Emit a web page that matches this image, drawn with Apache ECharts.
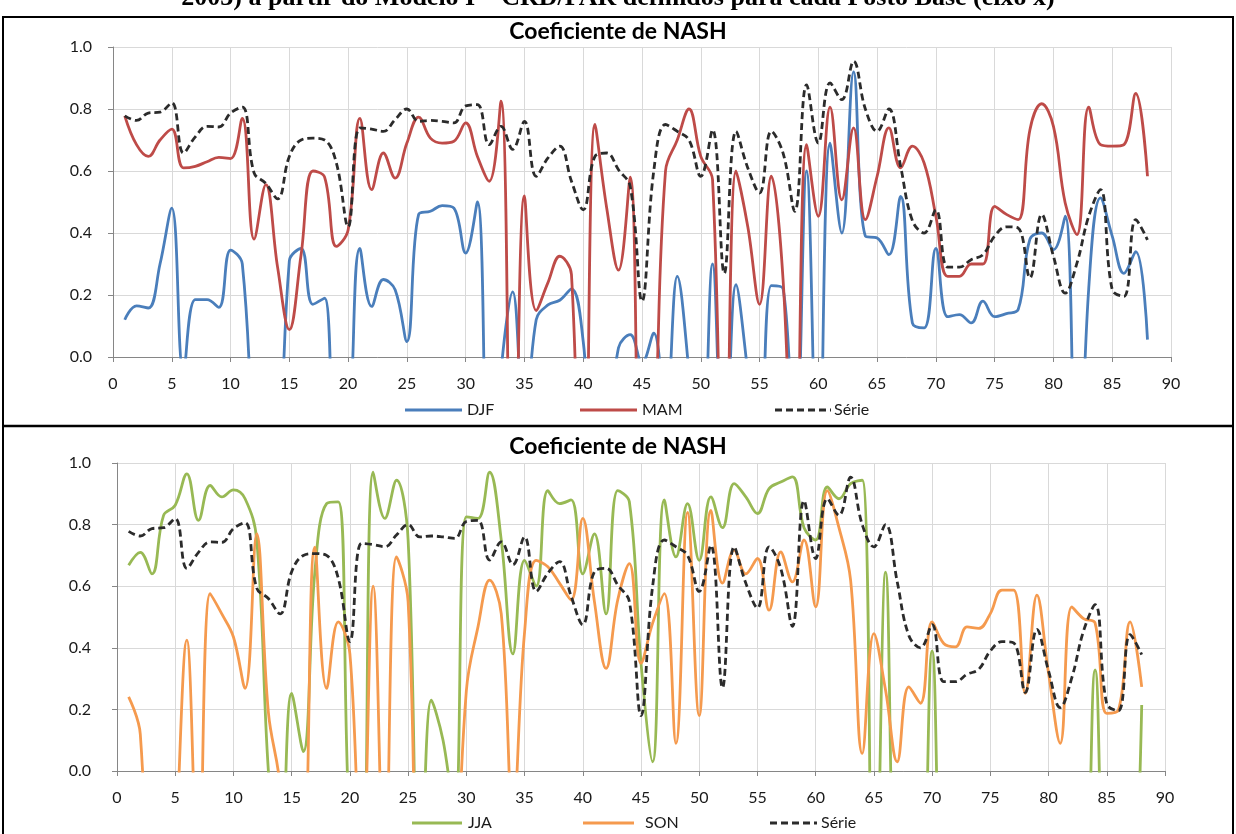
<!DOCTYPE html>
<html>
<head>
<meta charset="utf-8">
<script src="https://cdn.jsdelivr.net/npm/echarts@6/dist/echarts.min.js"></script>
<style>
  html, body { margin: 0; padding: 0; background: #fff; }
  #chart { width: 1236px; height: 834px; }
</style>
</head>
<body>
<div id="chart"></div>
<script>
// Posto Base index (x axis)
const postos = [1,2,3,4,5,6,7,8,9,10,11,12,13,14,15,16,17,18,19,20,21,22,23,24,25,26,27,28,29,30,
  31,32,33,34,35,36,37,38,39,40,41,42,43,44,45,46,47,48,49,50,51,52,53,54,55,56,57,58,59,60,
  61,62,63,64,65,66,67,68,69,70,71,72,73,74,75,76,77,78,79,80,81,82,83,84,85,86,87,88];

// Nash coefficient per season (negative values fall below the axis and are clipped)
const djf = [0.12,0.165,0.158,0.30,0.48,-0.05,0.185,0.185,0.16,0.345,0.30,-0.4,-1.0,-0.6,0.31,0.35,0.17,0.19,-0.5,-0.3,0.35,0.163,
  0.25,0.217,0.05,0.46,0.47,0.488,0.48,0.335,0.50,-0.6,-0.05,0.21,-0.25,0.12,0.168,0.183,0.22,0.05,-0.4,-0.3,0.03,0.072,-0.02,
  0.077,-0.2,0.26,-0.05,-0.5,0.30,-0.5,0.233,-0.05,-0.4,0.23,0.22,-0.4,0.60,-0.5,0.69,0.40,0.92,0.39,0.384,0.33,0.518,0.11,
  0.094,0.35,0.13,0.137,0.11,0.18,0.13,0.14,0.153,0.38,0.40,0.346,0.454,-0.6,0.22,0.513,0.39,0.27,0.34,0.056];

const mam = [0.778,0.685,0.647,0.70,0.735,0.61,0.615,0.63,0.644,0.64,0.77,0.38,0.556,0.29,0.088,0.33,0.60,0.58,0.357,0.41,0.77,0.54,
  0.658,0.577,0.69,0.774,0.706,0.69,0.696,0.755,0.647,0.567,0.825,-1.0,0.52,0.15,0.24,0.325,0.266,-1.0,0.75,0.48,0.28,0.58,-0.7,
  -0.3,0.60,0.70,0.80,0.647,0.572,-0.8,0.60,0.42,0.17,0.583,0.25,-0.6,0.685,0.454,0.806,0.507,0.739,0.443,0.583,0.739,0.61,0.68,
  0.626,0.454,0.26,0.26,0.30,0.30,0.486,0.46,0.443,0.733,0.817,0.744,0.497,0.395,0.806,0.685,0.68,0.685,0.85,0.583];

const jja = [0.668,0.71,0.64,0.83,0.863,0.965,0.814,0.927,0.89,0.913,0.884,0.75,0.0,-0.4,0.252,0.063,0.65,0.868,0.874,-0.2,-0.4,0.97,
  0.82,0.944,0.75,-0.6,0.23,0.10,-0.15,0.825,0.82,0.97,0.75,0.38,0.684,0.60,0.91,0.868,0.88,0.64,0.77,0.51,0.91,0.874,0.35,
  0.03,0.88,0.695,0.868,0.684,0.89,0.79,0.933,0.89,0.836,0.917,0.938,0.955,0.79,0.75,0.922,0.884,0.933,0.944,-0.8,0.646,-0.8,-1.0,
  -0.8,0.39,-0.8,-1.0,-1.0,-1.0,-1.0,-1.0,-1.0,-1.0,-1.0,-1.0,-1.0,-1.0,-0.8,0.328,-0.8,-1.0,-0.8,0.214];

const son = [0.241,0.12,-0.8,-1.0,-0.3,0.425,-0.4,0.576,0.51,0.435,0.268,0.77,0.19,-0.05,-0.8,-0.5,0.727,0.268,0.484,0.38,-0.4,0.6,
  -0.4,0.695,0.55,-0.8,-1.0,-1.0,-0.5,0.26,0.468,0.62,0.51,-0.15,0.45,0.684,0.663,0.61,0.555,0.82,0.55,0.333,0.555,0.673,0.35,
  0.48,0.576,0.09,0.84,0.18,0.846,0.61,0.717,0.64,0.69,0.522,0.711,0.614,0.75,0.533,0.91,0.79,0.62,0.057,0.446,0.263,0.03,0.273,
  0.22,0.484,0.414,0.403,0.468,0.463,0.511,0.587,0.587,0.252,0.571,0.317,0.09,0.533,0.495,0.48,0.187,0.198,0.484,0.273];

const serie = [0.778,0.763,0.787,0.79,0.82,0.658,0.71,0.744,0.742,0.787,0.806,0.594,0.56,0.51,0.647,0.70,0.706,0.70,0.626,0.42,0.739,0.735,
  0.728,0.766,0.80,0.76,0.763,0.76,0.755,0.81,0.814,0.685,0.744,0.67,0.76,0.583,0.642,0.68,0.567,0.475,0.647,0.658,0.604,0.55,0.18,
  0.60,0.75,0.728,0.70,0.583,0.733,0.27,0.728,0.61,0.529,0.728,0.658,0.47,0.878,0.69,0.884,0.83,0.954,0.80,0.728,0.80,0.615,0.44,
  0.40,0.475,0.29,0.29,0.314,0.33,0.39,0.42,0.416,0.255,0.46,0.325,0.206,0.303,0.454,0.54,0.217,0.196,0.443,0.378];

const xTicks = { min: 0, max: 90, step: 5 };
const yTicks = { min: 0, max: 1, step: 0.2 };

const FONT = 'Lato, "Open Sans", sans-serif';
const LABEL_SIZE = 16;
const COLORS = { DJF: '#4A7EBB', MAM: '#BE4B48', JJA: '#98B954', SON: '#F59A4E', Serie: '#2B2B2B' };
const DASH = [7, 4];

const pair = vals => vals.map((v, i) => [postos[i], v]);

function xAxisFor(gi) {
  return {
    type: 'value', gridIndex: gi, min: xTicks.min, max: xTicks.max, interval: xTicks.step,
    axisLine: { show: true, lineStyle: { color: '#868686', width: 1 } },
    axisTick: { show: true, length: 5, lineStyle: { color: '#868686' } },
    splitLine: { show: true, lineStyle: { color: '#D9D9D9', width: 1 } },
    axisLabel: { color: '#1a1a1a', fontSize: LABEL_SIZE, fontFamily: FONT, margin: 19 }
  };
}
function yAxisFor(gi, margin) {
  return {
    type: 'value', gridIndex: gi, min: yTicks.min, max: yTicks.max, interval: yTicks.step,
    axisLine: { show: true, lineStyle: { color: '#868686', width: 1 } },
    axisTick: { show: true, length: 5, lineStyle: { color: '#868686' } },
    splitLine: { show: true, lineStyle: { color: '#D9D9D9', width: 1 } },
    axisLabel: { color: '#1a1a1a', fontSize: LABEL_SIZE, fontFamily: FONT, margin: margin,
      formatter: v => v.toFixed(1) }
  };
}
function lineSeries(name, vals, color, gi, dashed) {
  return {
    name: name, type: 'line', xAxisIndex: gi, yAxisIndex: gi,
    data: pair(vals), smooth: 0.4, symbol: 'none', clip: true,
    lineStyle: { color: color, width: 2.8, type: dashed ? DASH : 'solid' },
    itemStyle: { color: color },
    emphasis: { disabled: true }
  };
}
// legend entry: short line sample followed by the series name
function legendEntry(name, color, dashed, x1, x2, textX, y) {
  return [
    { type: 'line', shape: { x1: x1, y1: y, x2: x2, y2: y },
      style: { stroke: color, lineWidth: 3, lineDash: dashed ? DASH : null } },
    { type: 'text', x: textX, y: y,
      style: { text: name, font: LABEL_SIZE + 'px ' + FONT, fill: '#1a1a1a', verticalAlign: 'middle' } }
  ];
}

const chart = echarts.init(document.getElementById('chart'), null, { renderer: 'canvas' });
chart.setOption({
  backgroundColor: '#ffffff',
  animation: false,
  title: [
    { text: 'Coeficiente de NASH', left: 'center', top: 15,
      textStyle: { fontSize: 23, fontWeight: 'bold', fontFamily: FONT, color: '#000' } },
    { text: 'Coeficiente de NASH', left: 'center', top: 430,
      textStyle: { fontSize: 23, fontWeight: 'bold', fontFamily: FONT, color: '#000' } }
  ],
  grid: [
    { left: 113, top: 47, width: 1058, height: 310 },
    { left: 117, top: 463, width: 1048, height: 308 }
  ],
  xAxis: [xAxisFor(0), xAxisFor(1)],
  yAxis: [yAxisFor(0, 21), yAxisFor(1, 26)],
  series: [
    lineSeries('DJF', djf, COLORS.DJF, 0, false),
    lineSeries('MAM', mam, COLORS.MAM, 0, false),
    lineSeries('Série', serie, COLORS.Serie, 0, true),
    lineSeries('JJA', jja, COLORS.JJA, 1, false),
    lineSeries('SON', son, COLORS.SON, 1, false),
    lineSeries('Série', serie, COLORS.Serie, 1, true)
  ],
  graphic: [
    { type: 'text', left: 'center', top: -15, z: 10,
      style: { text: '2003) a partir do Modelo I – CRD/PAR definidos para cada Posto Base (eixo x)',
        font: 'bold 26px "Liberation Serif", "DejaVu Serif", serif', fill: '#000' } },
    ...legendEntry('DJF', COLORS.DJF, false, 405, 462, 467, 410),
    ...legendEntry('MAM', COLORS.MAM, false, 580, 637, 642, 410),
    ...legendEntry('Série', COLORS.Serie, true, 775, 831, 834, 410),
    ...legendEntry('JJA', COLORS.JJA, false, 412, 462, 468, 823),
    ...legendEntry('SON', COLORS.SON, false, 583, 634, 645, 823),
    ...legendEntry('Série', COLORS.Serie, true, 770, 817, 821, 823),
    { type: 'line', z: 20, shape: { x1: 2, y1: 17, x2: 1234, y2: 17 }, style: { stroke: '#000', lineWidth: 2 } },
    { type: 'line', z: 20, shape: { x1: 3, y1: 16, x2: 3, y2: 834 }, style: { stroke: '#000', lineWidth: 2 } },
    { type: 'line', z: 20, shape: { x1: 1233, y1: 16, x2: 1233, y2: 834 }, style: { stroke: '#000', lineWidth: 2 } },
    { type: 'line', z: 20, shape: { x1: 2, y1: 426, x2: 1234, y2: 426 }, style: { stroke: '#000', lineWidth: 2.5 } }
  ]
});
</script>
</body>
</html>
